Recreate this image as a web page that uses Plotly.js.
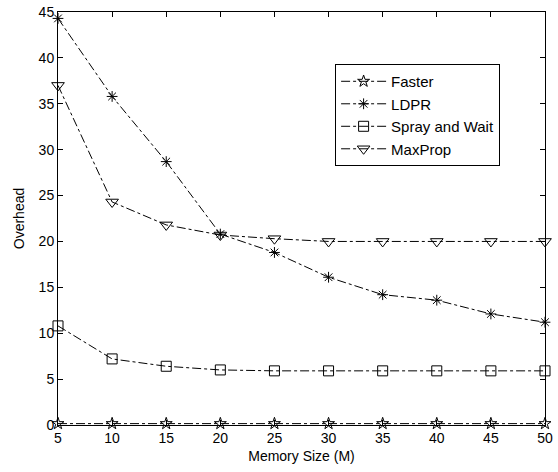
<!DOCTYPE html>
<html>
<head>
<meta charset="utf-8">
<script src="https://cdn.plot.ly/plotly-3.0.1.min.js"></script>
<style>html,body{margin:0;padding:0;background:#fff;}#chart{width:558px;height:472px;}</style>
</head>
<body>
<div id="chart"></div>
<script>
const memorySize = [5, 10, 15, 20, 25, 30, 35, 40, 45, 50];
const faster = [0.15, 0.15, 0.15, 0.15, 0.15, 0.15, 0.15, 0.15, 0.15, 0.15];
const ldpr = [44.3, 35.8, 28.7, 20.8, 18.8, 16.1, 14.2, 13.6, 12.1, 11.2];
const sprayAndWait = [10.8, 7.2, 6.4, 6.0, 5.9, 5.9, 5.9, 5.9, 5.9, 5.9];
const maxProp = [37.0, 24.3, 21.8, 20.7, 20.3, 20.0, 20.0, 20.0, 20.0, 20.0];
const seriesNames = ['Faster', 'LDPR', 'Spray and Wait', 'MaxProp'];
const xTicks = [5, 10, 15, 20, 25, 30, 35, 40, 45, 50];
const yTicks = [0, 5, 10, 15, 20, 25, 30, 35, 40, 45];

const fam = '"Liberation Sans", Arial, sans-serif';
const font = {family: fam, size: 14, color: '#000'};
function mk(y, name, symbol, size) {
  return {
    x: memorySize, y: y, name: name, type: 'scatter', mode: 'lines+markers',
    line: {color: '#000', width: 1, dash: 'dashdot'},
    marker: {symbol: symbol, size: size, color: '#000', line: {color: '#000', width: 1}},
    cliponaxis: false
  };
}
const data = [
  mk(faster, seriesNames[0], 'star-open', 9),
  mk(ldpr, seriesNames[1], 'asterisk-open', 9),
  mk(sprayAndWait, seriesNames[2], 'square-open', 10),
  mk(maxProp, seriesNames[3], 'triangle-down-open', 11)
];
const axisCommon = {
  showgrid: false, zeroline: false, showline: true, linecolor: '#000', linewidth: 1,
  mirror: 'ticks', ticks: 'inside', ticklen: 5, tickcolor: '#000', tickfont: font
};
const layout = {
  width: 558, height: 472,
  margin: {l: 58, r: 13, t: 12, b: 47},
  paper_bgcolor: '#fff', plot_bgcolor: '#fff',
  font: font,
  showlegend: true,
  legend: {
    x: 0.569, y: 0.874, xanchor: 'left', yanchor: 'top',
    bgcolor: '#fff', bordercolor: '#000', borderwidth: 1,
    font: {family: fam, size: 15, color: '#000'},
    itemwidth: 45, tracegroupgap: 4
  },
  xaxis: Object.assign({}, axisCommon, {
    range: [5, 50], tickvals: xTicks, ticktext: xTicks.map(String),
    title: {text: 'Memory Size (M)', font: font, standoff: 6}
  }),
  yaxis: Object.assign({}, axisCommon, {
    range: [0, 45], tickvals: yTicks, ticktext: yTicks.map(String),
    title: {text: 'Overhead', font: font, standoff: 10}
  })
};
Plotly.newPlot('chart', data, layout, {displayModeBar: false, staticPlot: true});
</script>
</body>
</html>
